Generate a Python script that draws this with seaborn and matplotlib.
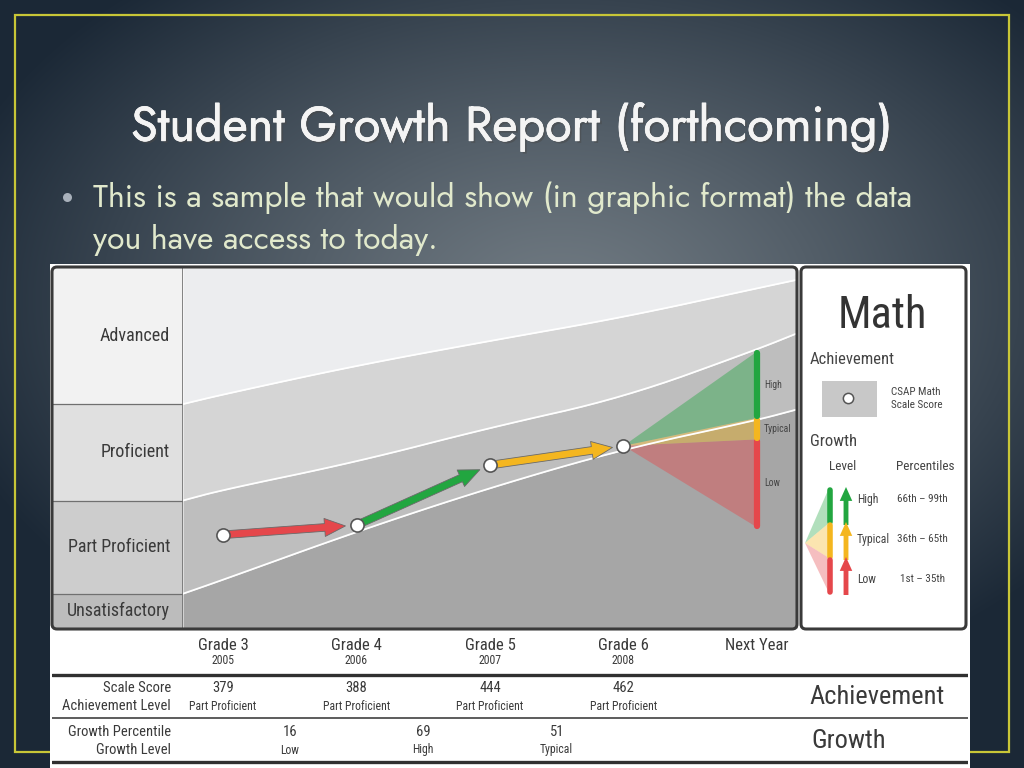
import numpy as np
import matplotlib
matplotlib.use('Agg')
import matplotlib.pyplot as plt
import matplotlib.patheffects as pe
from matplotlib.patches import FancyBboxPatch, FancyArrowPatch, Rectangle, Polygon
from matplotlib import font_manager
import seaborn as sns

# ---- values ----
grades = ['Grade 3', 'Grade 4', 'Grade 5', 'Grade 6', 'Next Year']
years = ['2005', '2006', '2007', '2008', '']
scale_scores = [379, 388, 444, 462]
achievement_levels = ['Part Proficient', 'Part Proficient', 'Part Proficient', 'Part Proficient']
growth_percentiles = [16, 69, 51]
growth_levels = ['Low', 'High', 'Typical']

# cut scores between the achievement bands (panel edges + each grade)
cut_pos = [-0.3, 0, 1, 2, 3, 4, 4.3]
cut_advanced = [501, 510, 537, 560, 582, 609, 617]
cut_proficient = [411, 421, 447, 479, 507, 552, 567]
cut_part_prof = [324, 337, 382, 423, 459, 486, 496]
score_min, score_max = 292, 628
bands = ['Unsatisfactory', 'Part Proficient', 'Proficient', 'Advanced']

# next year projection (scale score ranges per growth level)
proj_levels = ['Low', 'Typical', 'High']
proj_low = [386, 468, 488]
proj_high = [468, 488, 550]

legend_levels = ['High', 'Typical', 'Low']
legend_pct = ['66th – 99th', '36th – 65th', '1st – 35th']

level_colors = {'Low': '#e5474b', 'Typical': '#f4b61f', 'High': '#22a640'}
band_fill = ['#a6a6a6', '#bebebe', '#d5d5d5', '#ecedef']
cell_fill = ['#bcbcbc', '#cdcdcd', '#e0e0e0', '#f2f2f2']

sns.set_theme(style='white')
names = {f.name for f in font_manager.fontManager.ttflist}


def pick(prefs):
    for p in prefs:
        if p in names:
            return p
    return 'DejaVu Sans'


narrow = pick(['Liberation Sans Narrow', 'Arial Narrow', 'Roboto Condensed', 'Archivo Narrow',
               'IBM Plex Sans Condensed', 'Liberation Sans'])
slide_font = pick(['Jost', 'Futura', 'League Spartan', 'Lato'])
plt.rcParams['font.family'] = [narrow, 'DejaVu Sans']


def chaikin(xs, ys, n=3):
    # corner cutting, only to draw the band edges as soft curves
    p = np.column_stack([xs, ys]).astype(float)
    for _ in range(n):
        q = 0.75 * p[:-1] + 0.25 * p[1:]
        r = 0.25 * p[:-1] + 0.75 * p[1:]
        mid = np.empty((2 * len(q), 2))
        mid[0::2], mid[1::2] = q, r
        p = np.vstack([p[:1], mid, p[-1:]])
    return p[:, 0], p[:, 1]


W, H = 1024, 768
fig = plt.figure(figsize=(10.24, 7.68), dpi=100)


def box(x0, y0, x1, y1):
    return [x0 / W, 1 - y1 / H, (x1 - x0) / W, (y1 - y0) / H]


# slide background
bg = fig.add_axes([0, 0, 1, 1])
yy, xx = np.mgrid[0:H, 0:W]
t = np.clip(np.sqrt(((xx - 560) / 640) ** 2 + ((yy - 300) / 420) ** 2), 0, 1) ** 1.2
c_in = np.array([112, 122, 130]) / 255
c_out = np.array([27, 40, 54]) / 255
bg.imshow(c_in * (1 - t)[..., None] + c_out * t[..., None], extent=(0, W, H, 0), aspect='auto')
bg.add_patch(Rectangle((15, 15), 994, 737, fill=False, ec='#c8c637', lw=1.6))
bg.add_patch(Rectangle((50, 264), 920, 504, fc='white', ec='none'))
bg.scatter([67], [197], s=42, color='#a9b1bb', lw=0)
bg.set_xlim(0, W)
bg.set_ylim(H, 0)
bg.set_axis_off()

sfam = [slide_font, 'DejaVu Sans']
fig.text(512 / W, 1 - 127 / H, 'Student Growth Report (forthcoming)', ha='center', va='center',
         fontsize=35, color='#f4f4f4', family=sfam, fontweight='semibold',
         path_effects=[pe.withSimplePatchShadow(offset=(1.5, -1.5), alpha=0.5),
                       pe.withStroke(linewidth=0.5, foreground='#f4f4f4')])
fig.text(93 / W, 1 - 198 / H, 'This is a sample that would show (in graphic format) the data',
         ha='left', va='center', fontsize=23, color='#e1e9cc', family=sfam)
fig.text(93 / W, 1 - 240 / H, 'you have access to today.',
         ha='left', va='center', fontsize=23, color='#e1e9cc', family=sfam)

# achievement level labels column
lab = fig.add_axes(box(52, 268, 183, 628))
edges = [score_min, cut_part_prof[0], cut_proficient[0], cut_advanced[0], score_max]
for i, name in enumerate(bands):
    lab.axhspan(edges[i], edges[i + 1], color=cell_fill[i], lw=0)
    lab.text(0.9, (edges[i] + edges[i + 1]) / 2, name, ha='right', va='center', fontsize=13, color='#3a3a3a')
for e in edges[1:-1]:
    lab.axhline(e, color='#707070', lw=0.9)
lab.axvline(1, color='#707070', lw=1.2)
lab.set_xlim(0, 1)
lab.set_ylim(score_min, score_max)
lab.set_axis_off()

# main chart
ax = fig.add_axes(box(183, 268, 797, 628))
sx, s_pp = chaikin(cut_pos, cut_part_prof)
_, s_pr = chaikin(cut_pos, cut_proficient)
_, s_ad = chaikin(cut_pos, cut_advanced)
ax.fill_between(sx, score_min, s_pp, color=band_fill[0], lw=0)
ax.fill_between(sx, s_pp, s_pr, color=band_fill[1], lw=0)
ax.fill_between(sx, s_pr, s_ad, color=band_fill[2], lw=0)
ax.fill_between(sx, s_ad, score_max, color=band_fill[3], lw=0)
for cuts in (s_pp, s_pr, s_ad):
    sns.lineplot(x=sx, y=cuts, ax=ax, color='white', lw=1.3, sort=False)

# projection fan to next year
last = len(scale_scores) - 1
for lvl, lo, hi in zip(proj_levels, proj_low, proj_high):
    ax.fill([last, last + 1, last + 1], [scale_scores[-1], lo, hi], color=level_colors[lvl], alpha=0.42, lw=0)
    ax.plot([last + 1, last + 1], [lo + 1.5, hi - 1.5], color=level_colors[lvl], lw=4.5, solid_capstyle='round')
    ax.annotate(lvl, (last + 1, (lo + hi) / 2), xytext=(5, 0), textcoords='offset points',
                ha='left', va='center', fontsize=7, color='#444')

# growth arrows between years
for i, lvl in enumerate(growth_levels):
    arr = FancyArrowPatch((i, scale_scores[i]), (i + 1, scale_scores[i + 1]),
                          arrowstyle='simple,head_length=15,head_width=13,tail_width=5.5',
                          mutation_scale=1, shrinkA=4, shrinkB=8,
                          fc=level_colors[lvl], ec='#6a6a6a', lw=0.6, zorder=3)
    ax.add_patch(arr)

sns.scatterplot(x=list(range(len(scale_scores))), y=scale_scores, ax=ax, s=90, color='white',
                edgecolor='#555555', linewidth=1.2, zorder=4, legend=False)
ax.set_xlim(-0.3, 4.3)
ax.set_ylim(score_min, score_max)
ax.set_axis_off()

# table under the chart (same grade scale as the chart)
tab = fig.add_axes(box(52, 630, 968, 768))
px_per = (797 - 183) / 4.6
tab.set_xlim((52 - 183) / px_per - 0.3, (968 - 183) / px_per - 0.3)
tab.set_ylim(768, 630)
tab.set_axis_off()
for i, g in enumerate(grades):
    tab.text(i, 645, g, ha='center', va='center', fontsize=12, color='#3a3a3a')
    tab.text(i, 661, years[i], ha='center', va='center', fontsize=8.5, color='#3a3a3a')
for i, (sc, lv) in enumerate(zip(scale_scores, achievement_levels)):
    tab.text(i, 688, str(sc), ha='center', va='center', fontsize=10.5, color='#3a3a3a')
    tab.text(i, 706, lv, ha='center', va='center', fontsize=8.5, color='#3a3a3a')
for i, (gp, gl) in enumerate(zip(growth_percentiles, growth_levels)):
    tab.text(i + 0.5, 732, str(gp), ha='center', va='center', fontsize=10.5, color='#3a3a3a')
    tab.text(i + 0.5, 750, gl, ha='center', va='center', fontsize=8.5, color='#3a3a3a')
lx = -0.39
tab.text(lx, 688, 'Scale Score', ha='right', va='center', fontsize=10.5, color='#3a3a3a')
tab.text(lx, 706, 'Achievement Level', ha='right', va='center', fontsize=10.5, color='#3a3a3a')
tab.text(lx, 732, 'Growth Percentile', ha='right', va='center', fontsize=10.5, color='#3a3a3a')
tab.text(lx, 750, 'Growth Level', ha='right', va='center', fontsize=10.5, color='#3a3a3a')
tab.text(4.9, 697, 'Achievement', ha='center', va='center', fontsize=19, color='#3a3a3a')
tab.text(4.69, 741, 'Growth', ha='center', va='center', fontsize=19, color='#3a3a3a')
tab.axhline(675, color='#303030', lw=2.4)
tab.axhline(718, color='#303030', lw=1.1)
tab.axhline(762, color='#303030', lw=2.4)

# overlay: panel frames and the key
top = fig.add_axes([0, 0, 1, 1])
top.set_zorder(10)
top.patch.set_alpha(0)
top.set_xlim(0, W)
top.set_ylim(H, 0)
top.set_axis_off()
for x0, x1 in ((52, 797), (801, 966)):
    top.add_patch(FancyBboxPatch((x0, 267), x1 - x0, 362, boxstyle='round,pad=0,rounding_size=5',
                                 fc='none', ec='#3a3a3a', lw=2.2))

top.text(882, 316, 'Math', ha='center', va='center', fontsize=32, color='#333333')
top.text(810, 359, 'Achievement', ha='left', va='center', fontsize=12, color='#444444')
top.add_patch(Rectangle((822, 381), 55, 36, fc='#c8c8c8', ec='none'))
top.scatter([848], [398], s=55, color='white', edgecolor='#555555', linewidth=1.1)
top.text(891, 392, 'CSAP Math', ha='left', va='center', fontsize=8, color='#444444')
top.text(891, 405, 'Scale Score', ha='left', va='center', fontsize=8, color='#444444')
top.text(810, 441, 'Growth', ha='left', va='center', fontsize=12, color='#444444')
top.text(843, 466, 'Level', ha='center', va='center', fontsize=9.5, color='#444444')
top.text(925, 466, 'Percentiles', ha='center', va='center', fontsize=9.5, color='#444444')
for k, (lvl, pct) in enumerate(zip(legend_levels, legend_pct)):
    y0, y1 = 488 + 35 * k, 523 + 35 * k
    col = level_colors[lvl]
    top.add_patch(Polygon([(805, 543), (829, y0), (829, y1)], closed=True, fc=col, alpha=0.35, lw=0))
    top.plot([830, 830], [y0 + 1.5, y1 - 1.5], color=col, lw=4, solid_capstyle='round')
    top.add_patch(FancyArrowPatch((846, y1 + 2), (846, y0 - 1),
                                  arrowstyle='simple,head_length=10,head_width=9,tail_width=3.5',
                                  mutation_scale=1, fc=col, ec='none', shrinkA=0, shrinkB=0))
    top.text(857, (y0 + y1) / 2 - 6 + 5 * k, lvl, ha='left', va='center', fontsize=8.5, color='#444444')
    top.text(922, (y0 + y1) / 2 - 6 + 5 * k, pct, ha='center', va='center', fontsize=8, color='#444444')

fig.savefig('out.png', dpi=100)
